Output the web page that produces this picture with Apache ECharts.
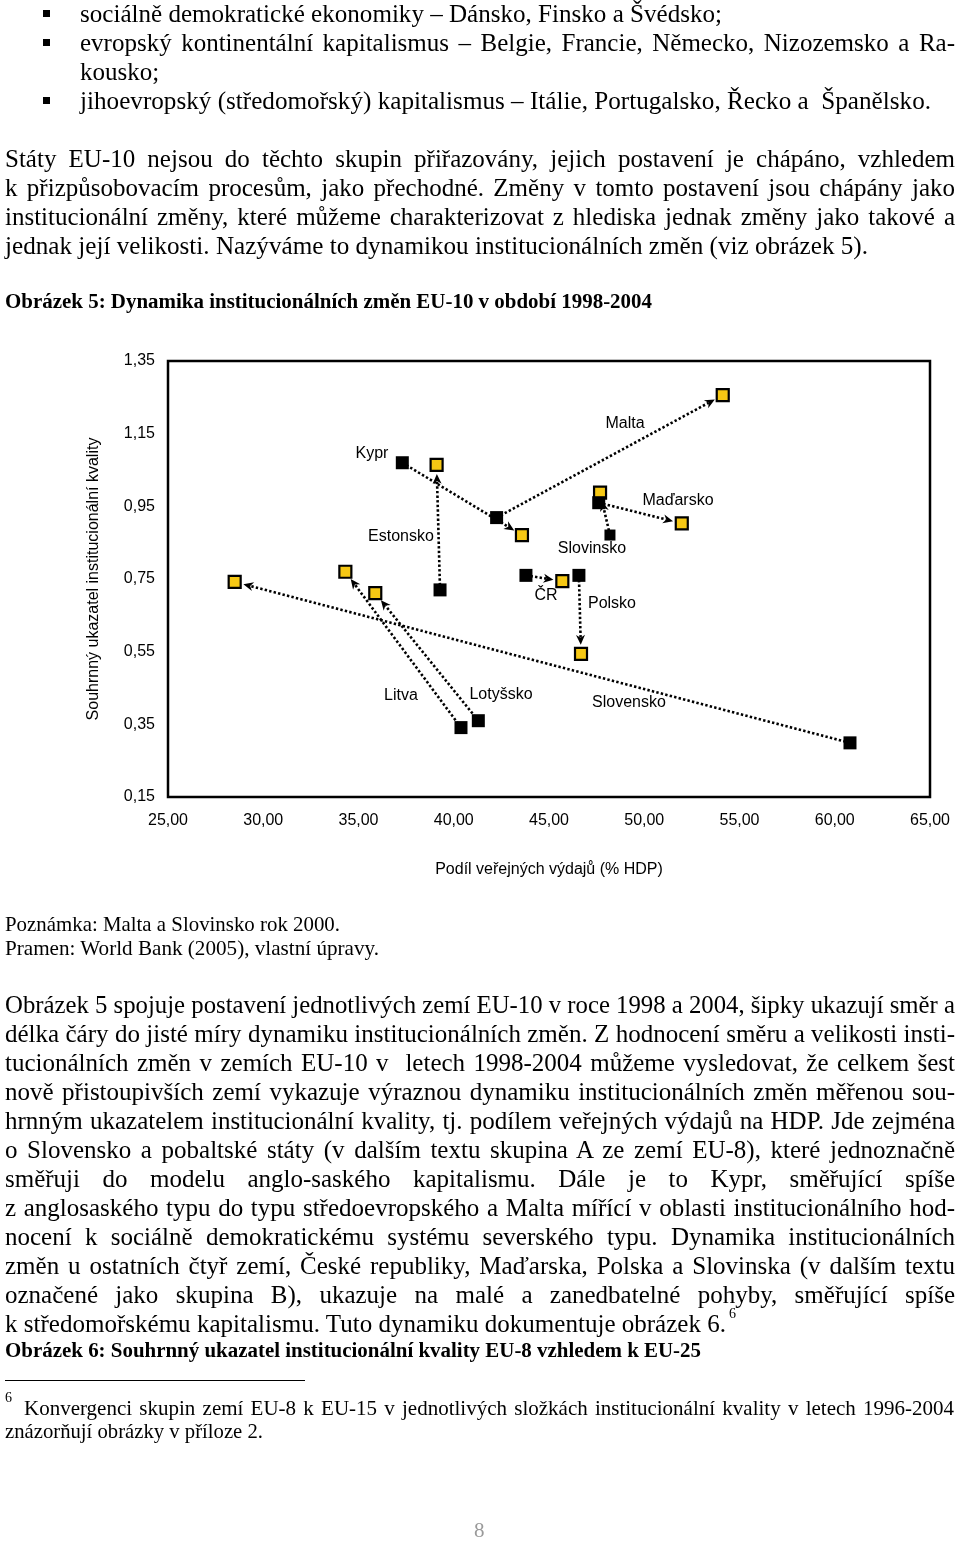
<!DOCTYPE html>
<html>
<head>
<meta charset="utf-8">
<script src="https://cdn.jsdelivr.net/npm/echarts@6/dist/echarts.min.js"></script>
<style>
  html, body { margin: 0; padding: 0; background: #fff; }
  #page { position: relative; width: 960px; height: 1541px; overflow: hidden; background: #fff; }
  #chart { position: absolute; left: 0; top: 0; width: 960px; height: 1541px; }
  .ln { position: absolute; white-space: pre; font-family: "Liberation Serif", "Times New Roman", serif; color: #000; transform-origin: 0 50%; }
</style>
</head>
<body>
<div id="page">
  <div id="chart"></div>
</div>
<script>
// ---------- chart data ----------
const countries = ['Kypr', 'Malta', 'Estonsko', 'Litva', 'Lotyšsko', 'Slovensko', 'ČR', 'Polsko', 'Slovinsko', 'Maďarsko'];
const spend1998   = [37.30, 42.25, 39.28, 40.38, 41.29, 60.80, 43.79, 46.57, 48.20, 47.61];
const quality1998 = [1.070, 0.919, 0.720, 0.341, 0.360, 0.299, 0.760, 0.760, 0.871, 0.960];
const spend2004   = [43.58, 54.12, 39.10, 34.31, 35.88, 28.50, 45.70, 46.68, 47.68, 51.97];
const quality2004 = [0.871, 1.256, 1.064, 0.770, 0.711, 0.742, 0.744, 0.544, 0.988, 0.903];
const xTicks = [25, 30, 35, 40, 45, 50, 55, 60, 65];
const yTicks = [0.15, 0.35, 0.55, 0.75, 0.95, 1.15, 1.35];
const xAxisTitle = 'Podíl veřejných výdajů (% HDP)';
const yAxisTitle = 'Souhrnný ukazatel institucionální kvality';

// ---------- page text (layout) ----------
const B = 25, S = 21, H = 20;
const pageLines = [
  { t: 'sociálně demokratické ekonomiky – Dánsko, Finsko a Švédsko;', x: 80, y: 15, r: 722, fs: B },
  { t: 'evropský kontinentální kapitalismus – Belgie, Francie, Německo, Nizozemsko a Ra-', x: 80, y: 44, r: 955, j: 1, fs: B },
  { t: 'kousko;', x: 80, y: 73, fs: B },
  { t: 'jihoevropský (středomořský) kapitalismus – Itálie, Portugalsko, Řecko a  Španělsko.', x: 80, y: 102, r: 931, fs: B },
  { t: 'Státy EU-10 nejsou do těchto skupin přiřazovány, jejich postavení je chápáno, vzhledem', x: 5, y: 160, r: 955, j: 1, fs: B },
  { t: 'k přizpůsobovacím procesům, jako přechodné. Změny v tomto postavení jsou chápány jako', x: 5, y: 189, r: 955, j: 1, fs: B },
  { t: 'institucionální změny, které můžeme charakterizovat z hlediska jednak změny jako takové a', x: 5, y: 218, r: 955, j: 1, fs: B },
  { t: 'jednak její velikosti. Nazýváme to dynamikou institucionálních změn (viz obrázek 5).', x: 5, y: 247, r: 868, fs: B },
  { t: 'Obrázek 5: Dynamika institucionálních změn EU-10 v období 1998-2004', x: 5, y: 302, r: 652, fs: H, b: 1 },
  { t: 'Poznámka: Malta a Slovinsko rok 2000.', x: 5, y: 926, r: 340, fs: S },
  { t: 'Pramen: World Bank (2005), vlastní úpravy.', x: 5, y: 950, r: 379, fs: S },
  { t: 'Obrázek 5 spojuje postavení jednotlivých zemí EU-10 v roce 1998 a 2004, šipky ukazují směr a', x: 5, y: 1006, r: 955, j: 1, fs: B },
  { t: 'délka čáry do jisté míry dynamiku institucionálních změn. Z hodnocení směru a velikosti insti-', x: 5, y: 1035, r: 955, j: 1, fs: B },
  { t: 'tucionálních změn v zemích EU-10 v  letech 1998-2004 můžeme vysledovat, že celkem šest', x: 5, y: 1064, r: 955, j: 1, fs: B },
  { t: 'nově přistoupivších zemí vykazuje výraznou dynamiku institucionálních změn měřenou sou-', x: 5, y: 1093, r: 955, j: 1, fs: B },
  { t: 'hrnným ukazatelem institucionální kvality, tj. podílem veřejných výdajů na HDP. Jde zejména', x: 5, y: 1122, r: 955, j: 1, fs: B },
  { t: 'o Slovensko a pobaltské státy (v dalším textu skupina A ze zemí EU-8), které jednoznačně', x: 5, y: 1151, r: 955, j: 1, fs: B },
  { t: 'směřuji do modelu anglo-saského kapitalismu. Dále je to Kypr, směřující spíše', x: 5, y: 1180, r: 955, j: 1, fs: B },
  { t: 'z anglosaského typu do typu středoevropského a Malta mířící v oblasti institucionálního hod-', x: 5, y: 1209, r: 955, j: 1, fs: B },
  { t: 'nocení k sociálně demokratickému systému severského typu. Dynamika institucionálních', x: 5, y: 1238, r: 955, j: 1, fs: B },
  { t: 'změn u ostatních čtyř zemí, České republiky, Maďarska, Polska a Slovinska (v dalším textu', x: 5, y: 1267, r: 955, j: 1, fs: B },
  { t: 'označené jako skupina B), ukazuje na malé a zanedbatelné pohyby, směřující spíše', x: 5, y: 1296, r: 955, j: 1, fs: B },
  { t: 'k středomořskému kapitalismu. Tuto dynamiku dokumentuje obrázek 6.', x: 5, y: 1325, r: 726, fs: B },
  { t: '6', x: 729, y: 1315, fs: 14 },
  { t: 'Obrázek 6: Souhrnný ukazatel institucionální kvality EU-8 vzhledem k EU-25', x: 5, y: 1351, r: 701, fs: H, b: 1 },
  { t: '6', x: 5, y: 1399, fs: 14 },
  { t: 'Konvergenci skupin zemí EU-8 k EU-15 v jednotlivých složkách institucionální kvality v letech 1996-2004', x: 24, y: 1410, r: 954, j: 1, fs: S },
  { t: 'znázorňují obrázky v příloze 2.', x: 5, y: 1433, r: 263, fs: S },
  { t: '8', x: 474, y: 1532, fs: 21, c: '#9a9a9a' }
];
const bulletRows = [14, 43, 101];
const countryLabels = [
  ['Kypr', 372, 454], ['Estonsko', 401, 537], ['Malta', 625, 424], ['Maďarsko', 678, 501],
  ['Slovinsko', 592, 549], ['ČR', 546, 596], ['Polsko', 612, 604], ['Litva', 401, 696],
  ['Lotyšsko', 501, 695], ['Slovensko', 629, 703]
];

// ---------- render page text ----------
const page = document.getElementById('page');
pageLines.forEach(L => {
  const d = document.createElement('div');
  d.className = 'ln';
  d.textContent = L.t;
  d.style.fontSize = L.fs + 'px';
  d.style.lineHeight = L.fs + 'px';
  d.style.fontWeight = L.b ? 'bold' : 'normal';
  if (L.c) d.style.color = L.c;
  d.style.left = L.x + 'px';
  d.style.top = (L.y - L.fs * 0.55) + 'px';
  d.style.zIndex = 5;
  page.appendChild(d);
  if (L.r) {
    const w = d.getBoundingClientRect().width;
    const target = L.r - L.x;
    if (L.j) {
      const n = (L.t.match(/ /g) || []).length;
      const extra = target - w;
      if (extra >= 0 && n > 0) d.style.wordSpacing = (extra / n) + 'px';
      else d.style.transform = 'scaleX(' + (target / w) + ')';
    } else {
      d.style.transform = 'scaleX(' + (target / w) + ')';
    }
  }
});
bulletRows.forEach(y => {
  const b = document.createElement('div');
  b.style.cssText = 'position:absolute;left:43px;width:7px;height:7px;background:#000;z-index:5;top:' + (y - 4) + 'px';
  page.appendChild(b);
});
const rule = document.createElement('div');
rule.style.cssText = 'position:absolute;left:5px;top:1380px;width:300px;height:1px;background:#000;';
page.appendChild(rule);

// ---------- chart ----------
const fmt = v => Number(v).toFixed(2).replace('.', ',');
const arrows = countries.map((c, i) => ({ name: c, value: [spend1998[i], quality1998[i], spend2004[i], quality2004[i]] }));
const pts1998 = countries.map((c, i) => ({ name: c, value: [spend1998[i], quality1998[i]] }));
const pts2004 = countries.map((c, i) => ({ name: c, value: [spend2004[i], quality2004[i]] }));

function renderArrow(params, api) {
  const p1 = api.coord([api.value(0), api.value(1)]);
  const p2 = api.coord([api.value(2), api.value(3)]);
  const dx = p2[0] - p1[0], dy = p2[1] - p1[1];
  const len = Math.sqrt(dx * dx + dy * dy);
  const ux = dx / len, uy = dy / len;
  const px = -uy, py = ux;
  const tip = [p2[0] - ux * 9, p2[1] - uy * 9];
  const base = [tip[0] - ux * 10, tip[1] - uy * 10];
  const notch = [tip[0] - ux * 7, tip[1] - uy * 7];
  return {
    type: 'group',
    children: [
      { type: 'line', shape: { x1: p1[0], y1: p1[1], x2: notch[0], y2: notch[1] },
        style: { stroke: '#000', lineWidth: 2.6, lineDash: [2.4, 2.2] } },
      { type: 'polygon', shape: { points: [tip, [base[0] + px * 4.5, base[1] + py * 4.5], notch, [base[0] - px * 4.5, base[1] - py * 4.5]] },
        style: { fill: '#000' } }
    ]
  };
}

const chart = echarts.init(document.getElementById('chart'), null, { renderer: 'canvas' });
const sans = '"Liberation Sans", Arial, sans-serif';
chart.setOption({
  animation: false,
  grid: { left: 168, top: 361, width: 762, height: 436, show: true, borderColor: '#000', borderWidth: 2.5, backgroundColor: 'transparent' },
  xAxis: {
    type: 'value', min: xTicks[0], max: xTicks[xTicks.length - 1], interval: 5,
    axisLine: { show: false }, axisTick: { show: false }, splitLine: { show: false },
    axisLabel: { formatter: fmt, color: '#000', fontSize: 16, fontFamily: sans, margin: 16 },
    name: xAxisTitle, nameLocation: 'middle', nameGap: 65,
    nameTextStyle: { color: '#000', fontSize: 16, fontFamily: sans }
  },
  yAxis: {
    type: 'value', min: yTicks[0], max: yTicks[yTicks.length - 1],
    axisLine: { show: false }, axisTick: { show: false }, splitLine: { show: false },
    axisLabel: { customValues: yTicks, formatter: fmt, color: '#000', fontSize: 16, fontFamily: sans, margin: 13 },
    name: yAxisTitle, nameLocation: 'middle', nameGap: 66, nameRotate: 90,
    nameTextStyle: { color: '#000', fontSize: 16, fontFamily: sans }
  },
  graphic: countryLabels.map(([t, x, y]) => ({
    type: 'text', x: x, y: y, z: 100,
    style: { text: t, fill: '#000', font: '16px ' + sans, align: 'center', verticalAlign: 'middle' }
  })),
  series: [
    { type: 'custom', renderItem: renderArrow, data: arrows, z: 1, silent: true },
    { type: 'scatter', data: pts2004, symbol: 'rect', symbolSize: 12, z: 2,
      itemStyle: { color: '#F6C814', borderColor: '#000', borderWidth: 2.2, opacity: 1 } },
    { type: 'scatter', data: pts1998, symbol: 'rect', z: 3,
      symbolSize: (v, p) => p.name === 'Slovinsko' ? 11 : 13,
      itemStyle: { color: '#000', opacity: 1 } }
  ]
});
</script>
</body>
</html>
